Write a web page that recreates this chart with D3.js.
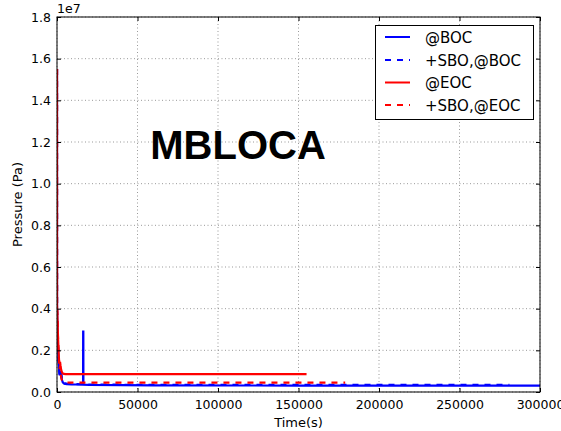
<!DOCTYPE html>
<html>
<head>
<meta charset="utf-8">
<script src="https://cdn.jsdelivr.net/npm/d3@7"></script>
<style>
  html, body { margin: 0; padding: 0; background: #fff; }
  svg { display: block; font-family: "DejaVu Sans", sans-serif; }
</style>
</head>
<body>
<svg id="chart" width="561" height="431"></svg>
<script>
// Pressure transients (Pa) against time (s) for four MBLOCA cases
const timeBOC = [0, 20, 300, 600, 900, 1200, 1500, 1800, 2200, 2600, 3000, 3600, 4500, 6000, 9000, 16200, 16250, 16350, 16400, 20000, 60000, 150000, 300000];
const pressBOC = [1.55e7, 4.0e6, 3.0e6, 2.2e6, 1.6e6, 1.2e6, 9e5, 8e5, 1.0e6, 9e5, 6e5, 4.6e5, 4.0e5, 3.8e5, 3.7e5, 3.6e5, 2.9e6, 2.9e6, 3.5e5, 3.4e5, 3.2e5, 3.1e5, 3.1e5];

const timeSboBOC = [0, 20, 300, 600, 900, 1200, 1500, 1800, 2200, 2600, 3000, 3600, 4500, 6000, 9000, 20000, 60000, 150000, 281000];
const pressSboBOC = [1.55e7, 4.0e6, 3.0e6, 2.2e6, 1.6e6, 1.2e6, 9e5, 8e5, 1.0e6, 9e5, 6e5, 4.7e5, 4.2e5, 4.0e5, 3.8e5, 3.6e5, 3.4e5, 3.4e5, 3.4e5];

const timeEOC = [0, 20, 200, 450, 700, 1000, 1300, 1600, 1900, 2200, 2500, 2900, 3400, 4200, 5500, 8000, 155000];
const pressEOC = [1.55e7, 4.2e6, 3.8e6, 3.1e6, 2.5e6, 1.9e6, 1.5e6, 1.35e6, 1.45e6, 1.25e6, 1.1e6, 9.8e5, 9.0e5, 8.7e5, 8.6e5, 8.6e5, 8.6e5];

const timeSboEOC = [0, 20, 200, 450, 700, 1000, 1300, 1600, 1900, 2200, 2500, 2900, 3400, 4200, 5500, 8000, 179000];
const pressSboEOC = [1.55e7, 4.1e6, 3.7e6, 3.0e6, 2.4e6, 1.8e6, 1.4e6, 1.1e6, 1.25e6, 1.0e6, 7.5e5, 6e5, 5.2e5, 4.8e5, 4.6e5, 4.5e5, 4.5e5];

const seriesNames = ["@BOC", "+SBO,@BOC", "@EOC", "+SBO,@EOC"];
const seriesColors = ["#0000ff", "#0000ff", "#ff0000", "#ff0000"];
const seriesDashed = [false, true, false, true];

const xTicks = [0, 50000, 100000, 150000, 200000, 250000, 300000];
const yTicks = [0, 0.2e7, 0.4e7, 0.6e7, 0.8e7, 1.0e7, 1.2e7, 1.4e7, 1.6e7, 1.8e7];

const series = [
  { t: timeBOC, p: pressBOC },
  { t: timeSboBOC, p: pressSboBOC },
  { t: timeEOC, p: pressEOC },
  { t: timeSboEOC, p: pressSboEOC }
].map((s, i) => ({
  name: seriesNames[i], color: seriesColors[i], dashed: seriesDashed[i],
  points: s.t.map((t, j) => [t, s.p[j]])
}));

const svg = d3.select("#chart");
const plotL = 57, plotR = 540, plotT = 17, plotB = 392;

const x = d3.scaleLinear().domain([0, 300000]).range([plotL, plotR]);
const y = d3.scaleLinear().domain([0, 1.8e7]).range([plotB, plotT]);

// dotted grid
const grid = svg.append("g");
grid.selectAll("line.gx").data(xTicks).join("line")
  .attr("x1", d => x(d)).attr("x2", d => x(d))
  .attr("y1", plotT).attr("y2", plotB)
  .attr("stroke", "#555").attr("stroke-width", 0.6).attr("stroke-dasharray", "1,2.5");
grid.selectAll("line.gy").data(yTicks).join("line")
  .attr("x1", plotL).attr("x2", plotR)
  .attr("y1", d => y(d)).attr("y2", d => y(d))
  .attr("stroke", "#555").attr("stroke-width", 0.6).attr("stroke-dasharray", "1,2.5");

// title text inside the plot
svg.append("text")
  .attr("x", 238).attr("y", 159)
  .attr("text-anchor", "middle")
  .attr("font-family", "'Liberation Sans', Arial, sans-serif")
  .attr("font-weight", "bold")
  .attr("font-size", 40)
  .text("MBLOCA");

// data lines
svg.append("clipPath").attr("id", "plotclip")
  .append("rect").attr("x", plotL).attr("y", plotT).attr("width", plotR - plotL).attr("height", plotB - plotT);

const line = d3.line().x(d => x(d[0])).y(d => y(d[1]));
svg.append("g").attr("clip-path", "url(#plotclip)")
  .selectAll("path").data(series).join("path")
  .attr("d", d => line(d.points))
  .attr("fill", "none")
  .attr("stroke", d => d.color)
  .attr("stroke-width", 2.2)
  .attr("stroke-dasharray", d => d.dashed ? "6,6" : null);

// axes with inward ticks on all four sides
const tickFmtX = d3.format("d");
const fmtY = d => (d / 1e7).toFixed(1);

const axB = svg.append("g").attr("transform", `translate(0,${plotB})`)
  .call(d3.axisBottom(x).tickValues(xTicks).tickFormat(tickFmtX).tickSizeInner(-4).tickSizeOuter(0).tickPadding(8));
const axT = svg.append("g").attr("transform", `translate(0,${plotT})`)
  .call(d3.axisTop(x).tickValues(xTicks).tickFormat("").tickSizeInner(-4).tickSizeOuter(0));
const axL = svg.append("g").attr("transform", `translate(${plotL},0)`)
  .call(d3.axisLeft(y).tickValues(yTicks).tickFormat(fmtY).tickSizeInner(-4).tickSizeOuter(0).tickPadding(6));
const axR = svg.append("g").attr("transform", `translate(${plotR},0)`)
  .call(d3.axisRight(y).tickValues(yTicks).tickFormat("").tickSizeInner(-4).tickSizeOuter(0));

[axB, axT, axL, axR].forEach(a => {
  a.select(".domain").remove();
  a.selectAll(".tick line").attr("stroke", "#000");
  a.selectAll("text").attr("font-family", "'DejaVu Sans', sans-serif").attr("font-size", 12.5).attr("fill", "#000");
});

// frame
svg.append("rect").attr("x", plotL).attr("y", plotT)
  .attr("width", plotR - plotL).attr("height", plotB - plotT)
  .attr("fill", "none").attr("stroke", "#000").attr("stroke-width", 1);

// exponent label
svg.append("text").attr("x", 57).attr("y", 13)
  .attr("font-size", 12.5).text("1e7");

// axis labels
svg.append("text").attr("x", (plotL + plotR) / 2).attr("y", 427)
  .attr("text-anchor", "middle").attr("font-size", 13).text("Time(s)");
svg.append("text").attr("transform", `translate(22,${(plotT + plotB) / 2}) rotate(-90)`)
  .attr("text-anchor", "middle").attr("font-size", 13).text("Pressure (Pa)");

// legend
const lg = svg.append("g");
lg.append("rect").attr("x", 375.5).attr("y", 25.5).attr("width", 158).attr("height", 94)
  .attr("fill", "#fff").attr("stroke", "#000").attr("stroke-width", 1);
const rowY = [37, 60, 82.5, 105];
series.forEach((s, i) => {
  lg.append("line").attr("x1", 385).attr("x2", 410)
    .attr("y1", rowY[i]).attr("y2", rowY[i])
    .attr("stroke", s.color).attr("stroke-width", 2)
    .attr("stroke-dasharray", s.dashed ? "6,6" : null);
  lg.append("text").attr("x", 425).attr("y", rowY[i] + 5.5)
    .attr("font-size", 15).text(s.name);
});
</script>
</body>
</html>
